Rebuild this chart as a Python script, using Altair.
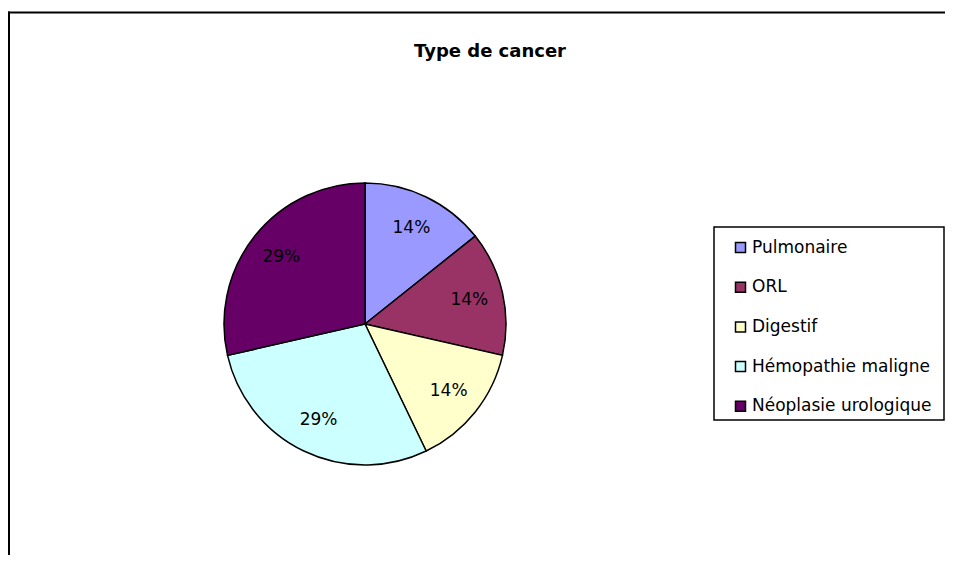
import altair as alt
import pandas as pd

# ---- data ----
categories = ["Pulmonaire", "ORL", "Digestif", "Hémopathie maligne", "Néoplasie urologique"]
counts = [1, 1, 1, 2, 2]
colors = ["#9999FF", "#993366", "#FFFFCC", "#CCFFFF", "#660066"]
title_text = "Type de cancer"

total = sum(counts)
df = pd.DataFrame({
    "cat": categories,
    "n": counts,
    "idx": list(range(len(categories))),
    "label": [f"{round(100 * v / total)}%" for v in counts],
})

FONT = "DejaVu Sans"
CX, CY, R = 357, 316, 141

base = alt.Chart(df)

pie = base.mark_arc(outerRadius=R, stroke="black", strokeWidth=1.5).encode(
    theta=alt.Theta("n:Q", stack=True),
    order=alt.Order("idx:Q"),
    color=alt.Color(
        "cat:N",
        sort=categories,
        scale=alt.Scale(domain=categories, range=colors),
        legend=alt.Legend(
            title=None,
            orient="none",
            legendX=724,
            legendY=231,
            padding=0,
            rowPadding=21.7,
            symbolType="square",
            symbolSize=100,
            symbolStrokeColor="black",
            symbolStrokeWidth=1.5,
            labelFont=FONT,
            labelFontSize=17,
            labelColor="black",
            labelOffset=3,
            labelLimit=400,
        ),
    ),
    x=alt.value(CX),
    y=alt.value(CY),
)

labels = base.mark_text(radius=107, font=FONT, fontSize=17, color="black").encode(
    theta=alt.Theta("n:Q", stack=True),
    order=alt.Order("idx:Q"),
    text="label:N",
    x=alt.value(CX),
    y=alt.value(CY),
)

one = alt.Chart(pd.DataFrame({"t": [title_text]}))

title = one.mark_text(font=FONT, fontSize=18, fontWeight="bold", color="black").encode(
    text="t:N", x=alt.value(482), y=alt.value(44)
)

top_line = one.mark_rule(color="black", strokeWidth=2).encode(
    x=alt.value(0), x2=alt.value(937), y=alt.value(4.5)
)
left_line = one.mark_rule(color="black", strokeWidth=2).encode(
    x=alt.value(1), y=alt.value(3.5), y2=alt.value(547)
)
legend_box = one.mark_rect(filled=False, stroke="black", strokeWidth=1.5).encode(
    x=alt.value(706), x2=alt.value(936), y=alt.value(219), y2=alt.value(412)
)

chart = alt.layer(top_line, left_line, legend_box, pie, labels, title).properties(
    width=937,
    height=547,
    autosize=alt.AutoSizeParams(type="none"),
    padding=0,
).configure_view(stroke=None)

chart.save("out.html", embed_options={"renderer": "svg", "actions": False})
